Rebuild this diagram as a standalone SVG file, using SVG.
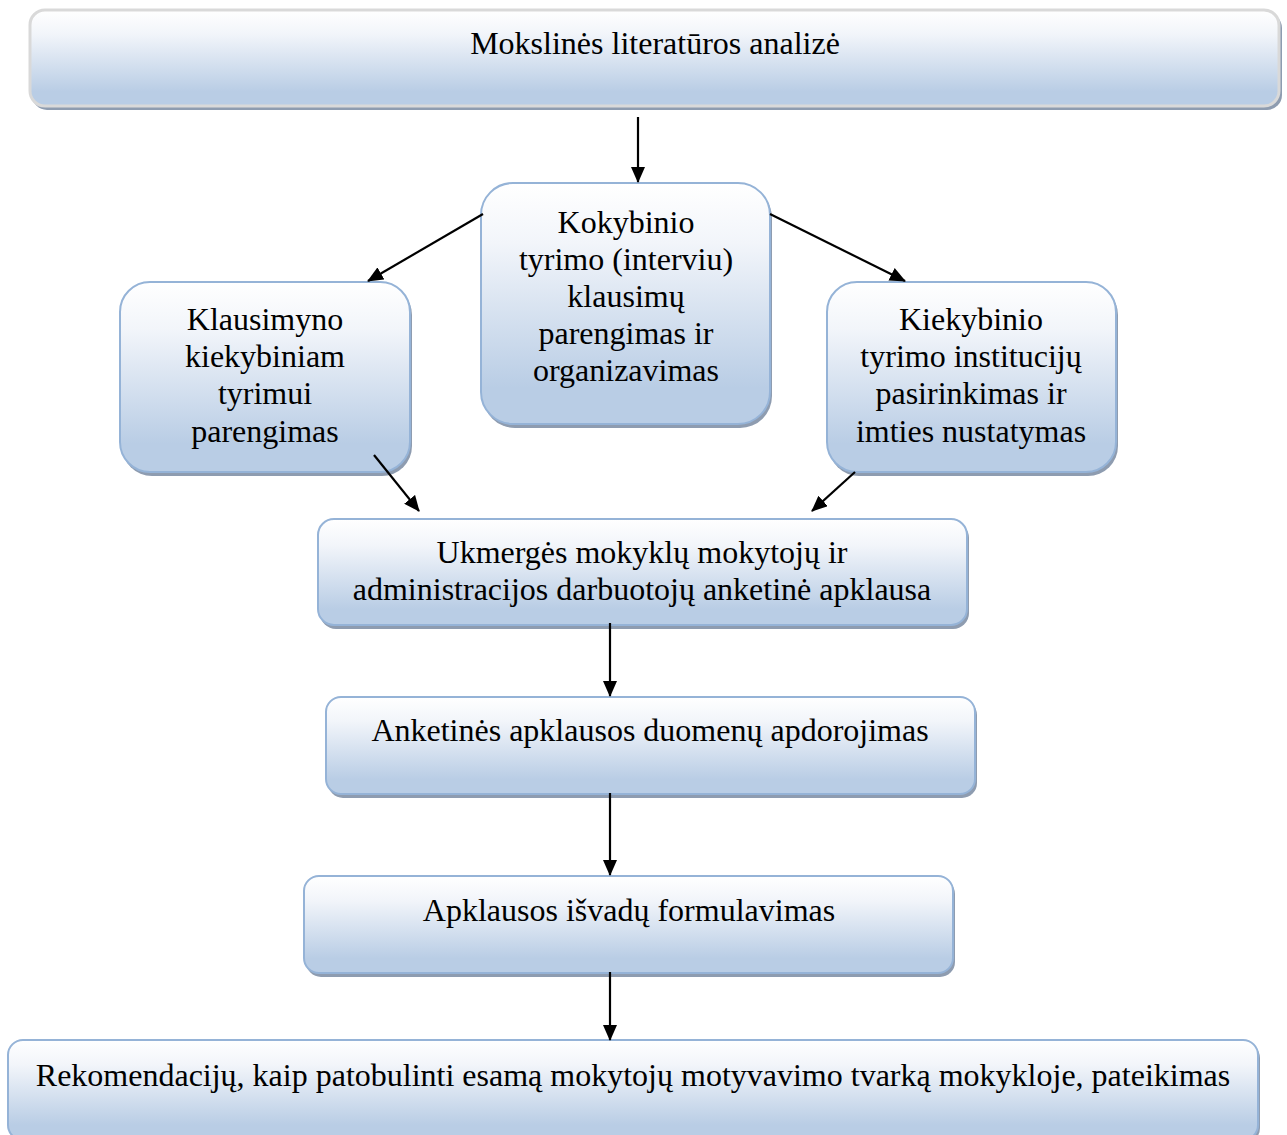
<svg xmlns="http://www.w3.org/2000/svg" width="1287" height="1135" viewBox="0 0 1287 1135">
<defs>
<linearGradient id="g" x1="0" y1="0" x2="0" y2="1">
<stop offset="0" stop-color="#ffffff"/>
<stop offset="0.25" stop-color="#f2f5fa"/>
<stop offset="0.85" stop-color="#b9cde5"/>
<stop offset="1" stop-color="#b9cde5"/>
</linearGradient>
<marker id="ah" markerWidth="16" markerHeight="14" refX="15" refY="7" orient="auto" markerUnits="userSpaceOnUse">
<path d="M0,0 L16,7 L0,14 Z" fill="#000"/>
</marker>
</defs>
<style>
.box{fill:url(#g);stroke:#95b3d7;stroke-width:2}
.gray{stroke:#d9d9d9;stroke-width:3}
.sh{fill:#8e9cb0}
.t{font-family:"Liberation Serif","Times New Roman",serif;font-size:32px;fill:#000;text-anchor:middle}
.c{stroke:#000;stroke-width:2.2;fill:none;marker-end:url(#ah)}
</style>
<rect width="1287" height="1135" fill="#fff"/>
<g id="n1">
<rect class="sh" x="32" y="13" width="1250" height="97" rx="15"/>
<rect class="box gray" x="30" y="10" width="1249" height="96" rx="15"/>
<text class="t" x="655" y="54">Mokslinės literatūros analizė</text>
</g>
<g id="n2">
<rect class="sh" x="483" y="186" width="289" height="242" rx="32"/>
<rect class="box" x="481" y="183" width="289" height="241" rx="32"/>
<text class="t" x="626" y="233">Kokybinio</text>
<text class="t" x="626" y="270">tyrimo (interviu)</text>
<text class="t" x="626" y="307">klausimų</text>
<text class="t" x="626" y="344">parengimas ir</text>
<text class="t" x="626" y="381">organizavimas</text>
</g>
<g id="n3">
<rect class="sh" x="122" y="285" width="290" height="191" rx="30"/>
<rect class="box" x="120" y="282" width="290" height="190" rx="30"/>
<text class="t" x="265" y="330">Klausimyno</text>
<text class="t" x="265" y="367">kiekybiniam</text>
<text class="t" x="265" y="404">tyrimui</text>
<text class="t" x="265" y="442">parengimas</text>
</g>
<g id="n4">
<rect class="sh" x="829" y="285" width="289" height="191" rx="30"/>
<rect class="box" x="827" y="282" width="289" height="190" rx="30"/>
<text class="t" x="971" y="330">Kiekybinio</text>
<text class="t" x="971" y="367">tyrimo institucijų</text>
<text class="t" x="971" y="404">pasirinkimas ir</text>
<text class="t" x="971" y="442">imties nustatymas</text>
</g>
<g id="n5">
<rect class="sh" x="320" y="522" width="649" height="107" rx="16"/>
<rect class="box" x="318" y="519" width="649" height="106" rx="16"/>
<text class="t" x="642" y="563">Ukmergės mokyklų mokytojų ir</text>
<text class="t" x="642" y="600">administracijos darbuotojų anketinė apklausa</text>
</g>
<g id="n6">
<rect class="sh" x="328" y="700" width="649" height="98" rx="15"/>
<rect class="box" x="326" y="697" width="649" height="97" rx="15"/>
<text class="t" x="650" y="741">Anketinės apklausos duomenų apdorojimas</text>
</g>
<g id="n7">
<rect class="sh" x="306" y="879" width="649" height="98" rx="15"/>
<rect class="box" x="304" y="876" width="649" height="97" rx="15"/>
<text class="t" x="629" y="921">Apklausos išvadų formulavimas</text>
</g>
<g id="n8">
<rect class="sh" x="10" y="1043" width="1250" height="100" rx="15"/>
<rect class="box" x="8" y="1040" width="1250" height="100" rx="15"/>
<text class="t" x="633" y="1086">Rekomendacijų, kaip patobulinti esamą mokytojų motyvavimo tvarką mokykloje, pateikimas</text>
</g>
<g id="connectors">
<line class="c" x1="638" y1="117" x2="638" y2="182"/>
<line class="c" x1="483" y1="214" x2="368" y2="281"/>
<line class="c" x1="770" y1="214" x2="905" y2="281"/>
<line class="c" x1="374" y1="455" x2="419" y2="511"/>
<line class="c" x1="855" y1="472" x2="812" y2="511"/>
<line class="c" x1="610" y1="623" x2="610" y2="696"/>
<line class="c" x1="610" y1="793" x2="610" y2="875"/>
<line class="c" x1="610" y1="972" x2="610" y2="1040"/>
</g>
</svg>
